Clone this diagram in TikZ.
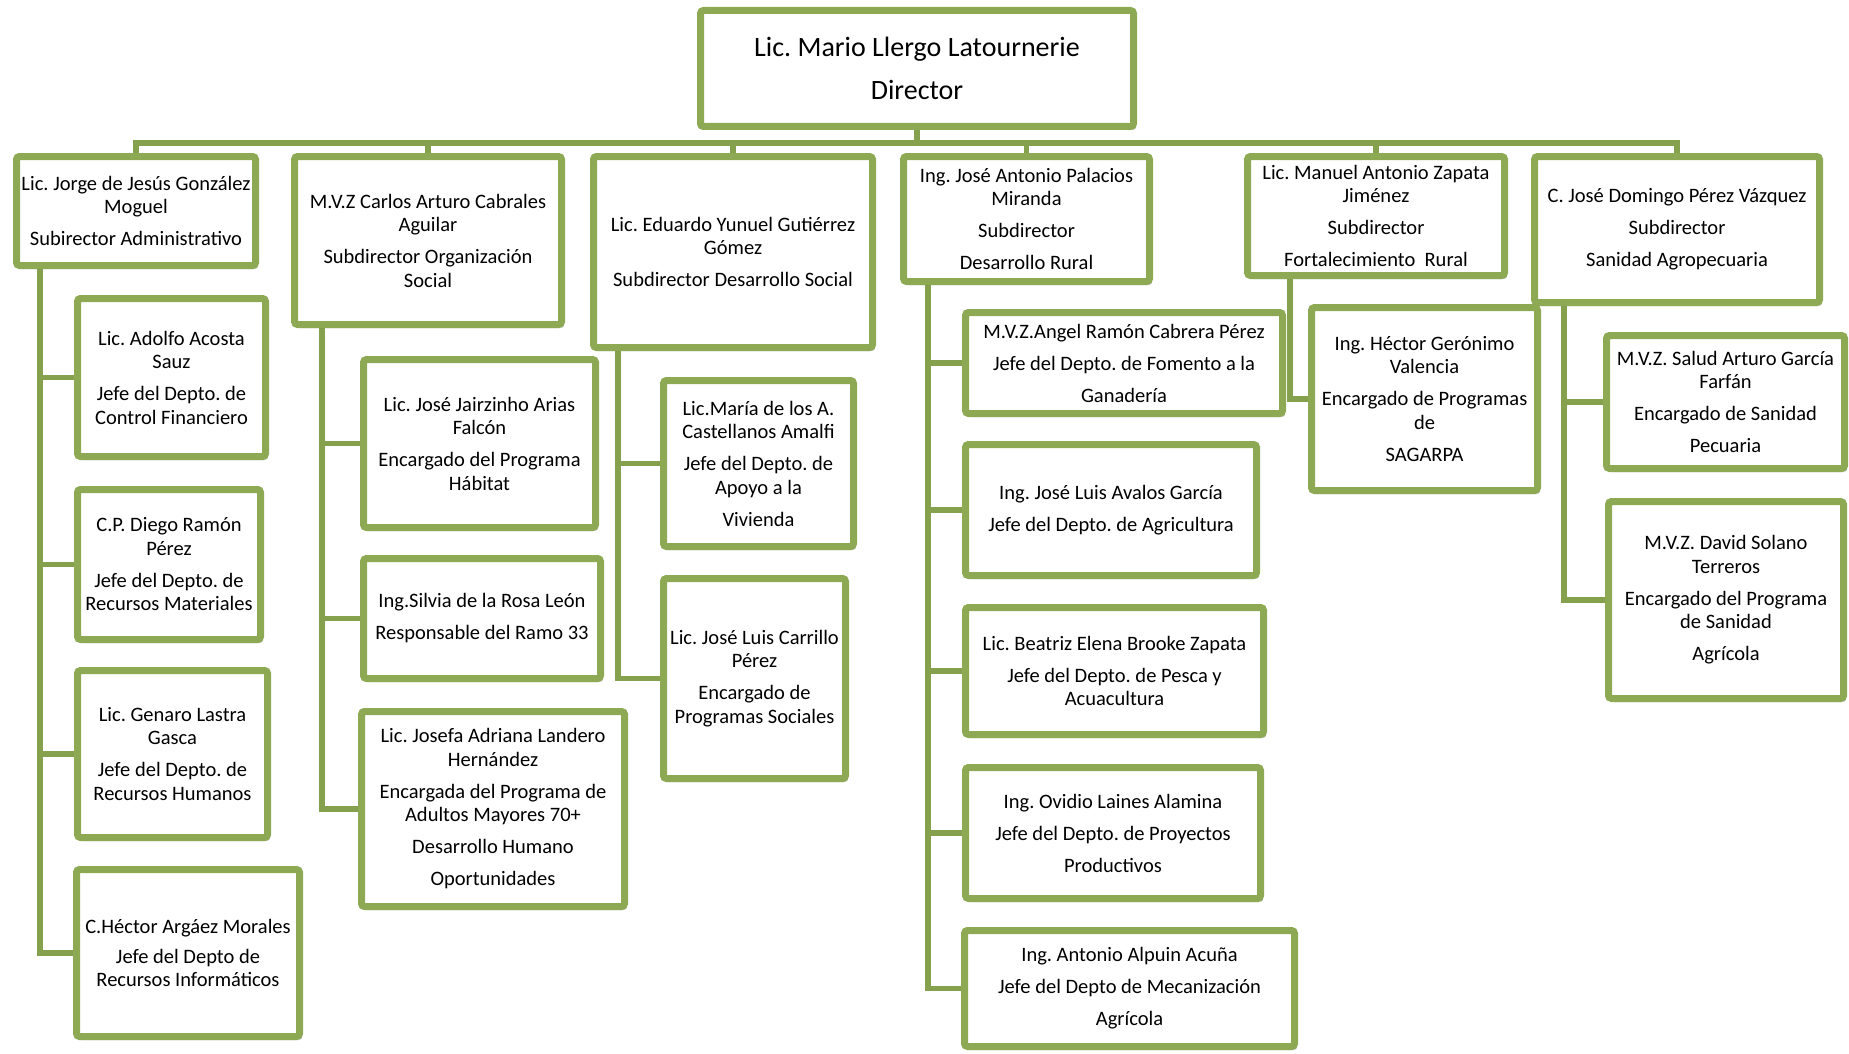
\documentclass[tikz,border=0pt]{standalone}
\usepackage{fontspec}
\setmainfont{Carlito}
\usetikzlibrary{shadows,backgrounds}
\definecolor{boxgreen}{HTML}{8DA953}
\definecolor{linegreen}{HTML}{85A14E}
\begin{document}
\frenchspacing
\begin{tikzpicture}[x=1pt,y=-1pt,
  box/.style={draw=boxgreen, line width=7pt, fill=white, rounded corners=3pt,
    inner sep=0pt, align=center, text=black,
    font=\fontsize{20.5}{23.5}\selectfont,
    drop shadow={opacity=0.2, shadow xshift=2.5pt, shadow yshift=-3.5pt, fill=black}},
  conn/.style={draw=linegreen, line width=5.5pt, line join=miter}]
\useasboundingbox (0,0) rectangle (1849,1054);

% Director
\node[box, minimum width=433pt, minimum height=116pt, font=\fontsize{28}{43}\selectfont] (dir) at (917,68.5)
  {Lic. Mario Llergo Latournerie\\Director};

% Subdirectors
\node[box, minimum width=239pt, minimum height=109pt] (s1) at (136,211)
  {Lic. Jorge de Jesús González\\Moguel\\[8.5pt]Subirector Administrativo};
\node[box, minimum width=267pt, minimum height=168pt] (s2) at (428,240.5)
  {M.V.Z Carlos Arturo Cabrales\\Aguilar\\[8.5pt]Subdirector Organización\\Social};
\node[box, minimum width=279pt, minimum height=191pt] (s3) at (733,252)
  {Lic. Eduardo Yunuel Gutiérrez\\Gómez\\[8.5pt]Subdirector Desarrollo Social};
\node[box, minimum width=246pt, minimum height=125pt] (s4) at (1026.5,219)
  {Ing. José Antonio Palacios\\Miranda\\[8.5pt]Subdirector\\[8.5pt]Desarrollo Rural};
\node[box, minimum width=257pt, minimum height=119pt] (s5) at (1376,216)
  {Lic. Manuel Antonio Zapata\\Jiménez\\[8.5pt]Subdirector\\[8.5pt]Fortalecimiento\ \ Rural};
\node[box, minimum width=285pt, minimum height=146pt] (s6) at (1677,229.5)
  {C. José Domingo Pérez Vázquez\\[8.5pt]Subdirector\\[8.5pt]Sanidad Agropecuaria};

% Column 1
\node[box, minimum width=188pt, minimum height=158pt] (a1) at (171.5,377.5)
  {Lic. Adolfo Acosta\\Sauz\\[8.5pt]Jefe del Depto. de\\Control Financiero};
\node[box, minimum width=183pt, minimum height=150pt] (a2) at (169,564.5)
  {C.P. Diego Ramón\\Pérez\\[8.5pt]Jefe del Depto. de\\Recursos Materiales};
\node[box, minimum width=190pt, minimum height=167pt] (a3) at (172.5,754)
  {Lic. Genaro Lastra\\Gasca\\[8.5pt]Jefe del Depto. de\\Recursos Humanos};
\node[box, minimum width=223pt, minimum height=167pt] (a4) at (188,953)
  {C.Héctor Argáez Morales\\[6.5pt]Jefe del Depto de\\Recursos Informáticos};

% Column 2
\node[box, minimum width=232pt, minimum height=168pt] (b1) at (479.5,443.5)
  {Lic. José Jairzinho Arias\\Falcón\\[8.5pt]Encargado del Programa\\Hábitat};
\node[box, minimum width=237pt, minimum height=120pt] (b2) at (482,618.5)
  {Ing.Silvia de la Rosa León\\[8.5pt]Responsable del Ramo 33};
\node[box, minimum width=263pt, minimum height=195pt] (b3) at (493,809)
  {Lic. Josefa Adriana Landero\\Hernández\\[8.5pt]Encargada del Programa de\\Adultos Mayores 70+\\[8.5pt]Desarrollo Humano\\[8.5pt]Oportunidades};

% Column 3
\node[box, minimum width=190pt, minimum height=166pt] (c1) at (758.5,463.5)
  {Lic.María de los A.\\Castellanos Amalfi\\[8.5pt]Jefe del Depto. de\\Apoyo a la\\[8.5pt]Vivienda};
\node[box, minimum width=182pt, minimum height=200pt] (c2) at (754.5,678.5)
  {Lic. José Luis Carrillo\\Pérez\\[8.5pt]Encargado de\\Programas Sociales};

% Column 4
\node[box, minimum width=317pt, minimum height=101pt] (d1) at (1124,363)
  {M.V.Z.Angel Ramón Cabrera Pérez\\[8.5pt]Jefe del Depto. de Fomento a la\\[8.5pt]Ganadería};
\node[box, minimum width=291pt, minimum height=131pt] (d2) at (1111,510)
  {Ing. José Luis Avalos García\\[8.5pt]Jefe del Depto. de Agricultura};
\node[box, minimum width=298pt, minimum height=127pt] (d3) at (1114.5,671)
  {Lic. Beatriz Elena Brooke Zapata\\[8.5pt]Jefe del Depto. de Pesca y\\Acuacultura};
\node[box, minimum width=295pt, minimum height=131pt] (d4) at (1113,833)
  {Ing. Ovidio Laines Alamina\\[8.5pt]Jefe del Depto. de Proyectos\\[8.5pt]Productivos};
\node[box, minimum width=330pt, minimum height=116pt] (d5) at (1129.5,988.5)
  {Ing. Antonio Alpuin Acuña\\[8.5pt]Jefe del Depto de Mecanización\\[8.5pt]Agrícola};

% Column 5
\node[box, minimum width=226pt, minimum height=183pt] (e1) at (1424.5,399)
  {Ing. Héctor Gerónimo\\Valencia\\[8.5pt]Encargado de Programas\\de\\[8.5pt]SAGARPA};

% Column 6
\node[box, minimum width=238pt, minimum height=133pt] (f1) at (1725.5,402)
  {M.V.Z. Salud Arturo García\\Farfán\\[8.5pt]Encargado de Sanidad\\[8.5pt]Pecuaria};
\node[box, minimum width=235pt, minimum height=197pt] (f2) at (1726,600)
  {M.V.Z. David Solano\\Terreros\\[8.5pt]Encargado del Programa\\de Sanidad\\[8.5pt]Agrícola};

\begin{scope}[on background layer]
  \fill[white] (0,0) rectangle (1849,1054);
  \coordinate (busy) at (0,143);
  \draw[conn] (s1.north) -- (s1.north |- busy) -- (s6.north |- busy) -- (s6.north);
  \foreach \n in {s2,s3,s4,s5} \draw[conn] (\n.north) -- (\n.north |- busy);
  \draw[conn] (dir.south) -- (dir.south |- busy);

  \coordinate (x1) at (40,0);
  \coordinate (x2) at (322,0);
  \coordinate (x3) at (618,0);
  \coordinate (x4) at (928,0);
  \coordinate (x5) at (1290,0);
  \coordinate (x6) at (1564,0);

  \draw[conn] (s1.south -| x1) |- (a4.west);
  \foreach \n in {a1,a2,a3} \draw[conn] (x1 |- \n.west) -- (\n.west);
  \draw[conn] (s2.south -| x2) |- (b3.west);
  \foreach \n in {b1,b2} \draw[conn] (x2 |- \n.west) -- (\n.west);
  \draw[conn] (s3.south -| x3) |- (c2.west);
  \draw[conn] (x3 |- c1.west) -- (c1.west);
  \draw[conn] (s4.south -| x4) |- (d5.west);
  \foreach \n in {d1,d2,d3,d4} \draw[conn] (x4 |- \n.west) -- (\n.west);
  \draw[conn] (s5.south -| x5) |- (e1.west);
  \draw[conn] (s6.south -| x6) |- (f2.west);
  \draw[conn] (x6 |- f1.west) -- (f1.west);
\end{scope}
\end{tikzpicture}
\end{document}
